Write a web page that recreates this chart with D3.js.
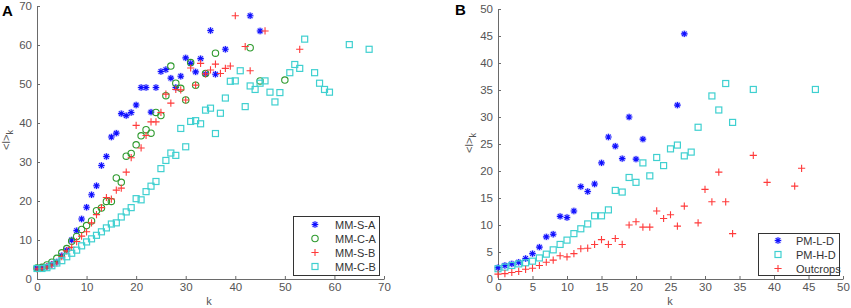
<!DOCTYPE html>
<html><head><meta charset="utf-8">
<script src="https://cdn.jsdelivr.net/npm/d3@7"></script>
<style>body{margin:0;background:#fff}svg{display:block}text{font-family:"Liberation Sans",Arial,sans-serif}</style>
</head><body><svg id="c" width="851" height="308"></svg>
<script>
// ---- Panel A data ----
const msaK=[0,1,2,3,4,5,6,7,8,9,10,11,12,13,14,15,16,17,18,19,20,21,22,23,24,25,26,27,28,29,30,31,32,33,34,35,36,38,43,45];
const msaV=[2.8,2.9,3.2,3.8,4.4,6.0,7.4,10,12.4,15.4,18.4,21.6,23.9,29.1,31.4,36.4,37.4,42.4,41.9,42.7,44.6,49.1,49.1,42.8,49.1,53.2,53.7,51.5,49.1,52,56.7,55.3,53.1,56.5,52.6,63.7,52.5,58.9,67.5,63.6];
const mcaK=[0,1,2,3,4,5,6,7,8,9,10,11,12,13,14,15,16,17,18,19,20,21,22,23,24,25,26,27,28,29,30,31,32,34,36,43,45,50];
const mcaV=[2.8,3.0,3.6,4.3,5.3,6.7,7.8,9.7,10.9,12.7,13.7,14.9,17.5,18.2,19.9,19.9,25.9,24.8,31.5,32.2,34.4,36.7,38.3,37.4,42.7,41.9,47.0,54.6,50.2,48.9,45.9,55.5,49.7,52.7,57.9,59.3,50.8,51.0];
const msbK=[0,1,2,3,4,5,6,7,8,9,10,11,12,13,14,15,16,17,18,19,20,21,22,23,24,25,26,27,28,29,30,31,32,33,34,35,36,37,38,39,40,42,43,46,53];
const msbV=[2.6,2.7,3.1,3.6,4.1,5.7,7.2,8.1,9.6,11.0,12.1,14.4,16.5,18.3,20.9,20.5,22.8,23.3,27.4,31.1,39.4,33.6,36.8,40.3,40.3,42.7,47.4,45.1,48.6,48.5,45.9,54.1,49.7,55.3,52.6,53.6,55.1,52.7,54.0,54.6,67.5,59.6,53.4,63.6,58.9];
const mcbK=[0,1,2,3,4,5,6,7,8,9,10,11,12,13,14,15,16,17,18,19,20,21,22,23,24,25,26,27,28,29,30,31,32,33,34,35,36,37,38,39,40,41,42,43,44,45,46,47,48,49,51,52,53,54,56,57,58,59,63,67];
const mcbV=[2.7,2.7,2.9,3.4,4.1,4.7,5.7,6.6,7.4,8.5,9.5,10.3,11.2,12.1,13.1,14.1,14.4,15.9,17.2,18.3,20.6,20.3,22.4,23.8,25.0,28.3,30.4,32.3,31.7,38.6,33.9,40.4,40.6,39.8,43.3,43.8,37.3,42.5,46.4,50.7,50.8,53.4,44.2,49.5,48.6,50.2,50.8,47.9,45.4,47.8,52.9,55.0,54.0,61.5,52.9,50.2,48.6,47.9,60.1,58.9];
const aXTicks=[0,10,20,30,40,50,60,70];
const aYTicks=[0,10,20,30,40,50,60,70];
const aLegend=["MM-S-A","MM-C-A","MM-S-B","MM-C-B"];
// ---- Panel B data ----
const pldK=[0,1,2,3,4,5,6,7,8,9,10,11,12,13,14,15,16,17,18,19,20,21,26,27];
const pldV=[2.1,2.5,2.8,3.1,3.8,4.7,5.9,7.8,8.3,11.6,11.4,12.6,17.1,16.2,17.6,21.5,26.3,24.6,22.3,30.0,22.2,25.9,32.2,45.4];
const phdK=[0,1,2,3,4,5,6,7,8,9,10,11,12,13,14,15,16,17,18,19,20,21,22,23,24,25,26,27,28,29,31,32,33,34,37,46];
const phdV=[1.9,2.2,2.5,2.8,3.0,3.3,3.9,4.6,5.4,6.4,7.2,8.4,9.3,10.2,11.7,11.7,12.8,16.4,16.1,18.8,17.9,21.5,19.1,22.5,21.0,24.1,24.8,22.8,23.5,28.1,33.9,31.3,36.2,29.0,35.1,35.1];
const outK=[0,1,2,3,4,5,6,7,8,9,10,11,12,13,14,15,16,17,18,19,20,21,22,23,24,25,26,27,29,30,31,32,33,34,37,39,43,44];
const outV=[0.9,1.0,1.2,1.4,1.8,2.0,2.5,3.1,3.5,4.3,4.1,4.7,5.6,5.7,6.4,7.3,6.4,7.5,6.4,10.0,10.6,9.6,9.6,12.6,11.2,11.9,9.8,13.5,10.4,16.6,14.3,19.8,14.3,8.4,22.9,17.9,17.2,20.5];
const bXTicks=[0,5,10,15,20,25,30,35,40,45,50];
const bYTicks=[0,5,10,15,20,25,30,35,40,45,50];
const bLegend=["PM-L-D","PM-H-D","Outcrops"];

const C={blue:"#1010ff",green:"#2e9a2e",red:"#ff3a3a",cyan:"#3fd0d0"};
const svg=d3.select("#c");

function star(g,x,y,col){
  const r=3.2,d=2.3;
  g.append("circle").attr("cx",x).attr("cy",y).attr("r",3.6).attr("fill",col).attr("opacity",0.18);
  g.append("path").attr("d",`M${x-r},${y}H${x+r}M${x},${y-r}V${y+r}M${x-d},${y-d}L${x+d},${y+d}M${x-d},${y+d}L${x+d},${y-d}`)
   .attr("stroke",col).attr("stroke-width",1.1).attr("fill","none");
}
function circ(g,x,y,col){g.append("circle").attr("cx",x).attr("cy",y).attr("r",3.2).attr("fill","none").attr("stroke",col).attr("stroke-width",1.1);}
function plus(g,x,y,col){const r=3.6;g.append("path").attr("d",`M${x-r},${y}H${x+r}M${x},${y-r}V${y+r}`).attr("stroke",col).attr("stroke-width",1.1).attr("fill","none");}
function sq(g,x,y,col){g.append("rect").attr("x",x-3).attr("y",y-3).attr("width",6).attr("height",6).attr("fill","none").attr("stroke",col).attr("stroke-width",1.2);}

function panel(o){
  const x=d3.scaleLinear().domain(o.xd).range(o.xr);
  const y=d3.scaleLinear().domain(o.yd).range(o.yr);
  const g=svg.append("g");
  const xa=g.append("g").attr("transform",`translate(0,${o.yr[0]})`)
    .call(d3.axisBottom(x).tickValues(o.xt).tickSize(-3).tickPadding(4).tickSizeOuter(0));
  const ya=g.append("g").attr("transform",`translate(${o.xr[0]},0)`)
    .call(d3.axisLeft(y).tickValues(o.yt).tickSize(-3).tickPadding(5).tickSizeOuter(0));
  [xa,ya].forEach(a=>{a.selectAll("path,line").attr("stroke","#6a6a6a");
    a.selectAll("text").attr("fill","#555").style("font-size","11.5px");});
  o.series.forEach(s=>{
    const sg=g.append("g");
    s.k.forEach((k,i)=>s.m(sg,x(k),y(s.v[i]),s.c));
  });
  // labels
  g.append("text").attr("x",o.klab[0]).attr("y",o.klab[1]).attr("text-anchor","middle").attr("fill","#555").style("font-size","11px").text("k");
  const yl=g.append("text").attr("transform",`translate(${o.ylab[0]},${o.ylab[1]}) rotate(-90)`).attr("text-anchor","middle").attr("fill","#555").style("font-size","11px");
  yl.append("tspan").text("<l>");
  yl.append("tspan").attr("dy",3).style("font-size","9px").text("k");
  g.append("text").attr("x",o.title[0]).attr("y",o.title[1]).attr("font-weight","bold").style("font-size","15px").attr("fill","#000").text(o.name);
  // legend
  const L=o.leg;
  g.append("rect").attr("x",L.x).attr("y",L.y).attr("width",L.w).attr("height",L.h).attr("fill","#fff").attr("stroke","#333").attr("stroke-width",1);
  o.series.forEach((s,i)=>{
    const yy=L.y0+i*14;
    s.m(g,L.mx,yy,s.c);
    g.append("text").attr("x",L.tx).attr("y",yy+4).attr("fill","#333").style("font-size","11px").text(o.labels[i]);
  });
}

panel({name:"A",xd:[0,70],xr:[37,384],yd:[0,70],yr:[279,6],xt:aXTicks,yt:aYTicks,
  series:[{k:msaK,v:msaV,m:star,c:C.blue},{k:mcaK,v:mcaV,m:circ,c:C.green},{k:msbK,v:msbV,m:plus,c:C.red},{k:mcbK,v:mcbV,m:sq,c:C.cyan}],
  labels:aLegend,klab:[209,305],ylab:[10,140],title:[2,16],
  leg:{x:293.5,y:216.5,w:86,h:59,y0:224.5,mx:315,tx:335}});
panel({name:"B",xd:[0,50],xr:[498,843],yd:[0,50],yr:[279,9],xt:bXTicks,yt:bYTicks,
  series:[{k:pldK,v:pldV,m:star,c:C.blue},{k:phdK,v:phdV,m:sq,c:C.cyan},{k:outK,v:outV,m:plus,c:C.red}],
  labels:bLegend,klab:[670,305],ylab:[473,143],title:[455,15],
  leg:{x:758.5,y:233.5,w:81,h:42,y0:240.5,mx:778,tx:796}});
</script></body></html>
